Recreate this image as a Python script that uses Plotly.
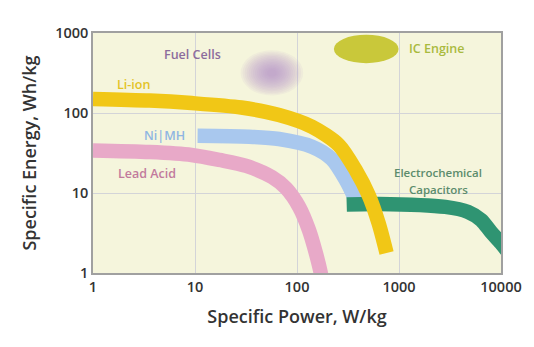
import math
import plotly.graph_objects as go

# ---- data ----
li_ion_power = [1, 3.6, 9.25, 28.4, 66.7, 140, 257, 376, 504, 631, 755]
li_ion_energy = [150, 143, 133, 117, 94.4, 67.4, 39.8, 19.4, 9.4, 4.2, 1.78]

nimh_power = [10.6, 34, 66.7, 140, 219, 301, 360, 385]
nimh_energy = [52, 50.6, 47.3, 37.9, 26.6, 14.5, 9.2, 7.5]

lead_acid_power = [1, 3.6, 9.25, 17.3, 31.8, 57, 78, 105, 131, 153, 171, 179]
lead_acid_energy = [34, 32.5, 29.9, 25.9, 21.8, 15.8, 11.5, 6.7, 3.45, 1.78, 1.0, 0.71]

capacitor_power = [307, 631, 2844, 4764, 6380, 7980, 10000, 11700]
capacitor_energy = [7.2, 7.3, 6.7, 5.8, 4.6, 3.25, 2.37, 1.83]

ic_engine_power = [230, 990]
ic_engine_energy = [420, 950]

fuel_cell_power = [28, 115]
fuel_cell_energy = [165, 610]

tick_vals_x = [1, 10, 100, 1000, 10000]
tick_text_x = ["1", "10", "100", "1000", "10000"]
tick_vals_y = [1, 10, 100, 1000]
tick_text_y = ["1", "10", "100", "1000"]

FONT = "Open Sans"

fig = go.Figure()

def band(x, y, color):
    fig.add_trace(go.Scatter(
        x=x, y=y, mode="lines",
        line=dict(color=color, width=14.5, shape="spline", smoothing=0.8),
        hoverinfo="skip", showlegend=False,
    ))

band(lead_acid_power, lead_acid_energy, "#e8a9c8")
band(nimh_power, nimh_energy, "#a9c8ee")
band(capacitor_power, capacitor_energy, "#2f9472")
band(li_ion_power, li_ion_energy, "#f1c716")

shapes = []
# IC engine ellipse
shapes.append(dict(type="circle", xref="x", yref="y",
                   x0=ic_engine_power[0], x1=ic_engine_power[1],
                   y0=ic_engine_energy[0], y1=ic_engine_energy[1],
                   fillcolor="#c9c83a", line=dict(width=0)))
# Fuel cells: soft blob, many nested ellipses (log-space shrink)
lx0, lx1 = math.log10(fuel_cell_power[0]), math.log10(fuel_cell_power[1])
ly0, ly1 = math.log10(fuel_cell_energy[0]), math.log10(fuel_cell_energy[1])
cx, cy = (lx0 + lx1) / 2, (ly0 + ly1) / 2
hx, hy = (lx1 - lx0) / 2, (ly1 - ly0) / 2
n_layers = 14
for i in range(n_layers):
    f = 1.0 - i * (0.85 / (n_layers - 1))
    shapes.append(dict(type="circle", xref="x", yref="y",
                       x0=10 ** (cx - hx * f), x1=10 ** (cx + hx * f),
                       y0=10 ** (cy - hy * f), y1=10 ** (cy + hy * f),
                       fillcolor="rgba(180,130,196,0.075)", line=dict(width=0)))

def lab(text, x, y, color, size=12.5):
    return dict(text=text, x=math.log10(x), y=math.log10(y), xref="x", yref="y",
                showarrow=False, font=dict(family=FONT, size=size, color=color, weight=600),
                xanchor="center", yanchor="middle")

annotations = [
    lab("Fuel Cells", 9.46, 546, "#8c6c9c"),
    lab("Li-ion", 2.51, 230, "#e3c326"),
    lab("Ni|MH", 5.03, 51.6, "#8fb6e2"),
    lab("Lead Acid", 3.37, 17.3, "#c27a9c"),
    lab("IC Engine", 2320, 649, "#a9ba3e"),
    lab("Electrochemical", 2400, 17.8, "#5c8c6c", 11.5),
    lab("Capacitors", 2450, 11.2, "#5c8c6c", 11.5),
]

fig.update_layout(
    width=534, height=347,
    margin=dict(l=93, r=31, t=33, b=74),
    paper_bgcolor="white",
    plot_bgcolor="#f5f5dc",
    shapes=shapes,
    annotations=annotations,
    font=dict(family=FONT, color="#333333"),
    xaxis=dict(
        type="log", range=[0, 4],
        tickvals=tick_vals_x, ticktext=tick_text_x,
        tickfont=dict(family=FONT, size=14.5, color="#333333", weight=600),
        showgrid=True, gridcolor="#d3d4d8", gridwidth=1,
        showline=True, linecolor="#a0a0a0", linewidth=1.5, mirror=True,
        ticks="", zeroline=False,
        title=dict(text="Specific Power, W/kg", standoff=15,
                   font=dict(family=FONT, size=18, color="#333333", weight=600)),
    ),
    yaxis=dict(
        type="log", range=[0, 3],
        tickvals=tick_vals_y, ticktext=tick_text_y,
        tickfont=dict(family=FONT, size=14.5, color="#333333", weight=600),
        showgrid=True, gridcolor="#d3d4d8", gridwidth=1,
        showline=True, linecolor="#a0a0a0", linewidth=1.5, mirror=True,
        ticks="", zeroline=False,
        title=dict(text="Specific Energy, Wh/kg", standoff=14,
                   font=dict(family=FONT, size=18, color="#333333", weight=600)),
    ),
)

fig.write_html("out.html")
